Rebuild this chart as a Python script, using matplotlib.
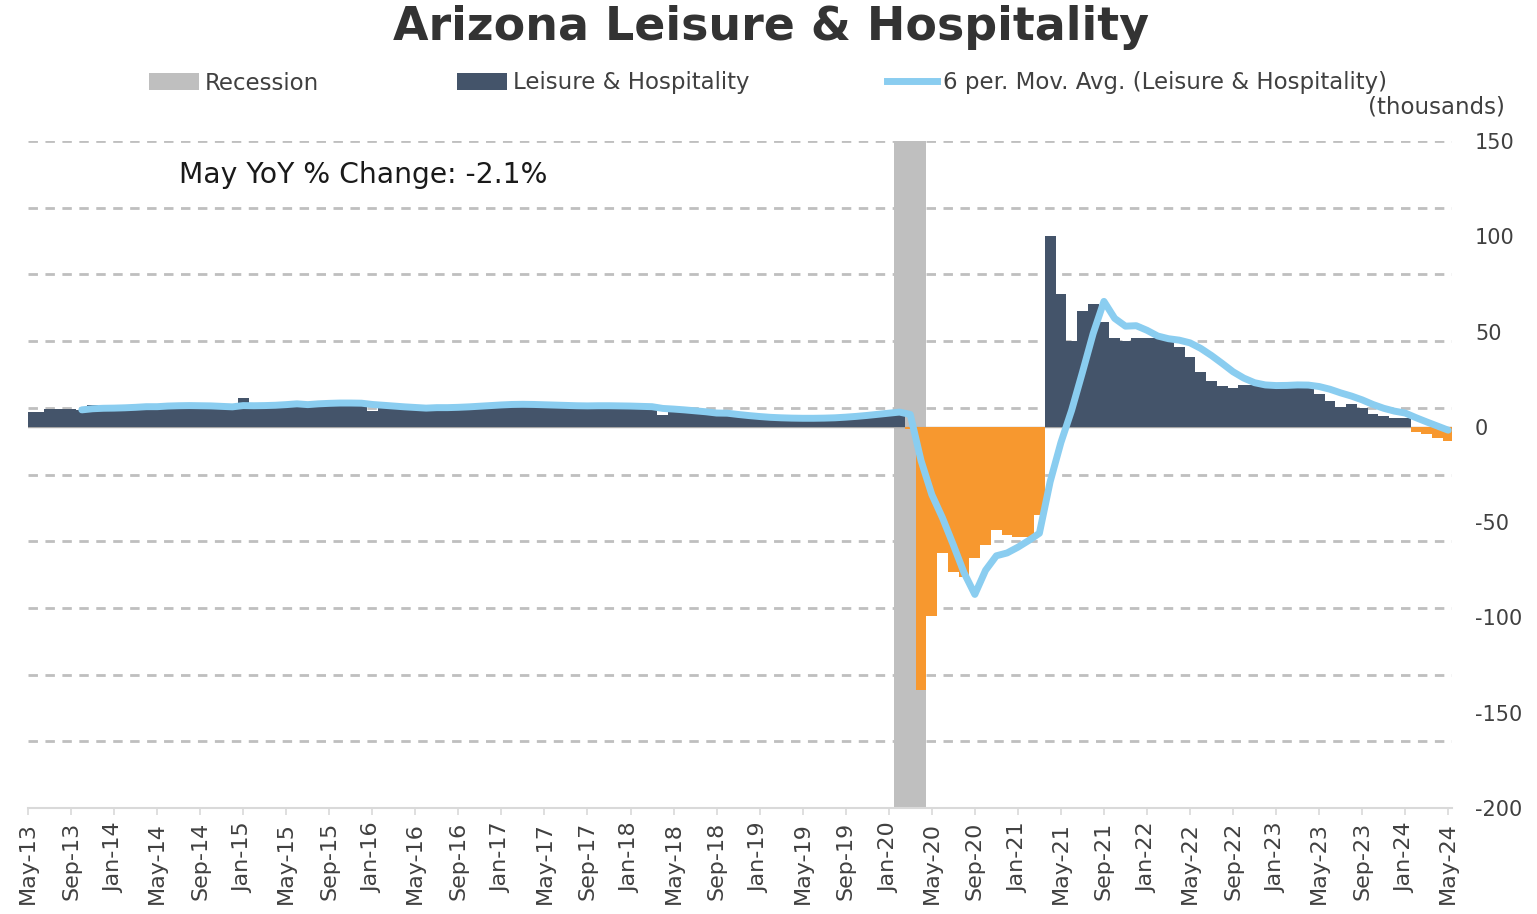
import matplotlib
matplotlib.use('Agg')
import numpy as np
import pandas as pd
import matplotlib.pyplot as plt
from matplotlib.patches import Patch
from matplotlib.lines import Line2D

plt.rcParams['font.family'] = ['DejaVu Sans']
plt.rcParams['axes.unicode_minus'] = False

# monthly categories, May-13 .. May-24
months = pd.date_range('2013-05-01', periods=133, freq='MS').strftime('%b-%y').tolist()

# YoY change in Leisure & Hospitality jobs (thousands)
yoy_change = [
    8, 8, 9.5, 9.5, 9.5, 9, 11.5, 9.5,                                   # 2013 May-Dec
    10, 10.5, 11, 11, 11.5, 11.5, 11, 11, 10.5, 10.5, 10, 10,            # 2014
    15, 10.5, 11, 11.5, 12, 12.5, 12.5, 13, 12.5, 12.5, 12, 12,          # 2015
    8.5, 10.5, 10, 10, 10, 10, 10, 10.5, 11, 11.5, 12, 12,               # 2016
    12, 12, 11.5, 11, 11, 11, 11, 11, 11, 11.5, 11, 10.5,                # 2017
    10.5, 10, 10, 6, 9, 8, 7.5, 7, 6, 5.5, 5, 4.5,                       # 2018
    4.5, 4.5, 4.5, 4.5, 4.5, 4.5, 5, 5.5, 6.5, 7, 7.5, 8,                # 2019
    8.5, 9, -1, -138, -99.5, -66, -76, -79, -69, -62, -54, -57,          # 2020
    -58, -58, -46, 100, 69.5, 45, 61, 64.5, 55, 46.5, 45, 46.5,          # 2021
    46.5, 46.5, 46.5, 42, 36.5, 29, 24, 21.5, 20.5, 22, 22, 22,          # 2022
    22, 22, 22, 21.5, 17.5, 13.5, 10.5, 12, 10, 7, 5.5, 4.5,             # 2023
    4.5, -2.5, -3.5, -6, -7.5,                                           # 2024 Jan-May
]
recession_months = ['Feb-20', 'Mar-20', 'Apr-20']
tick_labels = months[::4]
y_min, y_max = -200, 150

NAVY = '#44546A'
ORANGE = '#F7982F'
SKY = '#8ACDF0'
GREY = '#BFBFBF'
TXT = '#404040'

x = np.arange(len(months))
ma6 = pd.Series(yoy_change).rolling(6).mean()

W, H = 1537, 914
fig = plt.figure(figsize=(W / 100, H / 100), dpi=100)
ax = fig.add_axes([28 / W, (H - 808) / H, (1452 - 28) / W, (808 - 141) / H])

# dashed grid every 35 from the bottom
for g in np.arange(y_min + 35, y_max + 1, 35):
    ax.axhline(g, color=GREY, lw=2, dashes=(3.4, 2.7), zorder=1)

# recession shading
rec_idx = [months.index(m) for m in recession_months]
ax.bar(rec_idx, [y_max - y_min] * len(rec_idx), bottom=y_min, width=1.0,
       color=GREY, linewidth=0, antialiased=False, zorder=2)

ax.axhline(0, color='#A6A6A6', lw=1, zorder=2.5)

colors = [NAVY if v >= 0 else ORANGE for v in yoy_change]
ax.bar(x, yoy_change, width=1.0, color=colors, linewidth=0, antialiased=False, zorder=3)
ax.plot(x, ma6, color=SKY, lw=5, solid_joinstyle='round', solid_capstyle='round', zorder=4)

ax.set_xlim(0, 132.35)
ax.set_ylim(y_min, y_max)

for s in ['top', 'left', 'right']:
    ax.spines[s].set_visible(False)
ax.spines['bottom'].set_color('#D9D9D9')
ax.spines['bottom'].set_linewidth(1.5)

ax.set_xticks(x[::4])
ax.set_xticklabels(tick_labels, rotation=90, fontsize=16, color=TXT)
ax.tick_params(axis='x', length=5, width=1.2, color='#D9D9D9', pad=5)

ax.yaxis.tick_right()
ax.set_yticks(np.arange(y_min, y_max + 1, 50))
ax.tick_params(axis='y', length=0, pad=16.5, labelsize=15, labelcolor=TXT)

# title, notes, legend
fig.text(771 / W, 1 - 27 / H, 'Arizona Leisure & Hospitality', ha='center', va='center',
         fontsize=33, fontweight='bold', color='#333333')
fig.text(179 / W, 1 - 175 / H, 'May YoY % Change: -2.1%', ha='left', va='center',
         fontsize=20.3, color='#1A1A1A')
fig.text(1505 / W, 1 - 107 / H, '(thousands)', ha='right', va='center',
         fontsize=16.5, color=TXT)

handles = [Patch(facecolor=GREY), Patch(facecolor=NAVY), Line2D([], [], color=SKY, lw=5)]
labels = ['Recession', 'Leisure & Hospitality', '6 per. Mov. Avg. (Leisure & Hospitality)']
leg = fig.legend(handles, labels, loc='center left', bbox_to_anchor=(149 / W, 1 - 83 / H),
                 ncol=3, frameon=False, fontsize=16.5, handlelength=2.2, handletextpad=0.25,
                 columnspacing=6.0, borderpad=0, borderaxespad=0)
for t in leg.get_texts():
    t.set_color(TXT)

fig.savefig('out.png', dpi=100)
